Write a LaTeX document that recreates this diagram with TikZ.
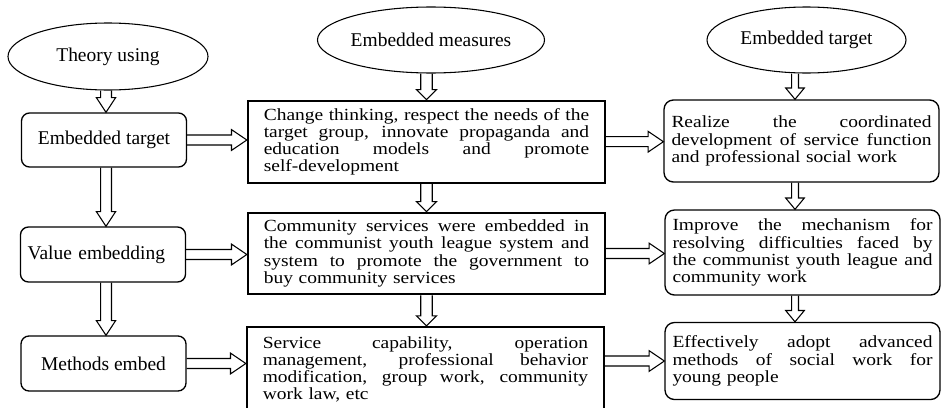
\documentclass[tikz,border=0pt]{standalone}
\usepackage{fontspec}
\setmainfont{Liberation Serif}
\newfontfamily\stretchfont{Liberation Serif}[FakeStretch=1.145]
\usetikzlibrary{shapes.geometric,calc}

\newcommand{\jline}[1]{\makebox[\hsize][s]{\spaceskip=0pt\xspaceskip=0pt\relax #1}}
\def\sw{4pt}\def\hw{7.5pt}\def\hl{10pt}
\newcommand{\varrow}[2]{\path[arr] let \p1=(#1), \p2=(#2) in
  (\x1-\sw,\y1) -- (\x1-\sw,\y2+\hl) -- (\x1-\hw,\y2+\hl) -- (\x1,\y2) --
  (\x1+\hw,\y2+\hl) -- (\x1+\sw,\y2+\hl) -- (\x1+\sw,\y1);}
\newcommand{\harrow}[2]{\path[arr] let \p1=(#1), \p2=(#2) in
  (\x1,\y1+\sw) -- (\x2-\hl,\y1+\sw) -- (\x2-\hl,\y1+\hw) -- (\x2,\y1) --
  (\x2-\hl,\y1-\hw) -- (\x2-\hl,\y1-\sw) -- (\x1,\y1-\sw);}

\begin{document}
\begin{tikzpicture}[x=0.75pt,y=-0.75pt,
  bigtext/.style={font=\fontsize{14.6}{16}\selectfont},
  smalltext/.style={font=\stretchfont\fontsize{12.75}{12.9}\selectfont},
  ell/.style={ellipse, draw=black, line width=0.8pt, inner sep=0pt, bigtext},
  lbox/.style={draw=black, line width=1pt, rounded corners=6pt, minimum width=123.75pt, minimum height=41.25pt, inner sep=0pt, bigtext},
  mbox/.style={draw=black, line width=1.7pt, text width=244pt, inner xsep=11.9pt, inner ysep=2pt, align=left, smalltext},
  rbox/.style={draw=black, line width=1pt, rounded corners=7pt, text width=195pt, inner xsep=5.6pt, inner ysep=2pt, align=left, smalltext},
  arr/.style={draw=black, line width=0.8pt, line join=miter}
]
\useasboundingbox (0,0) rectangle (941,407);

% ellipses
\node[ell, minimum width=150pt, minimum height=50.25pt] (e1) at (108,56.5) {Theory using};
\node[ell, minimum width=150.75pt, minimum height=49.5pt] (e2) at (431,40) {Embedded measures};
\node[ell, minimum width=149.25pt, minimum height=49.5pt] (e3) at (806.5,40) {Embedded target};

% left boxes
\node[lbox, minimum height=40.5pt] (l1) at (104,140) {Embedded target};
\node[lbox, text width=113pt, inner xsep=5.4pt, align=left] (l2) at (103,254.5) {Value embedding};
\node[lbox] (l3) at (103.5,363.5) {Methods embed};

% middle boxes
\node[mbox, minimum height=61.5pt] (m1) at (426.5,141.7) {%
\jline{Change thinking, respect the needs of the}\\
\jline{target group, innovate propaganda and}\\
\jline{education models and promote}\\
self-development};
\node[mbox, minimum height=61.2pt] (m2) at (426.5,253.5) {%
\jline{Community services were embedded in}\\
\jline{the communist youth league system and}\\
\jline{system to promote the government to}\\
buy community services};
\node[mbox, minimum height=63.75pt] (m3) at (425.5,369.5) {%
\jline{Service capability, operation}\\
\jline{management, professional behavior}\\
\jline{modification, group work, community}\\
work law, etc};

% right boxes
\node[rbox, minimum height=61.5pt] (r1) at (801.5,141) {%
\jline{Realize the coordinated}\\
\jline{development of service function}\\
and professional social work};
\node[rbox, minimum height=63.75pt] (r2) at (802.5,252.5) {%
\jline{Improve the mechanism for}\\
\jline{resolving difficulties faced by}\\
\jline{the communist youth league and}\\
community work};
\node[rbox, minimum height=57.75pt] (r3) at (802.5,361) {%
\jline{Effectively adopt advanced}\\
\jline{methods of social work for}\\
young people};

\coordinate (rc) at (795,0);
\coordinate (lc) at (106,0);

% vertical arrows, left column
\begin{scope}
\def\sw{4.1pt}\def\hw{7.2pt}\def\hl{11pt}
\varrow{e1.south -| lc}{l1.north -| lc}
\varrow{l1.south -| lc}{l2.north -| lc}
\varrow{l2.south -| lc}{l3.north -| lc}
\end{scope}
% vertical arrows, middle column
\begin{scope}
\def\sw{4.3pt}\def\hw{7.5pt}\def\hl{7.5pt}
\varrow{e2.south -| m1.north}{m1.north}
\varrow{m1.south}{m2.north}
\varrow{m2.south}{m3.north}
\end{scope}
% vertical arrows, right column
\begin{scope}
\def\sw{2.6pt}\def\hw{7pt}\def\hl{8.5pt}
\varrow{e3.south -| rc}{r1.north -| rc}
\varrow{r1.south -| rc}{r2.north -| rc}
\varrow{r2.south -| rc}{r3.north -| rc}
\end{scope}
% horizontal arrows
\begin{scope}
\def\sw{3.75pt}\def\hw{7.8pt}\def\hl{11.5pt}
\harrow{l1.east}{m1.west}
\harrow{l2.east}{m2.west}
\harrow{l3.east}{m3.west}
\harrow{m1.east}{r1.west}
\harrow{m2.east}{r2.west}
\harrow{m3.east |- r3.west}{r3.west}
\end{scope}
\end{tikzpicture}
\end{document}
